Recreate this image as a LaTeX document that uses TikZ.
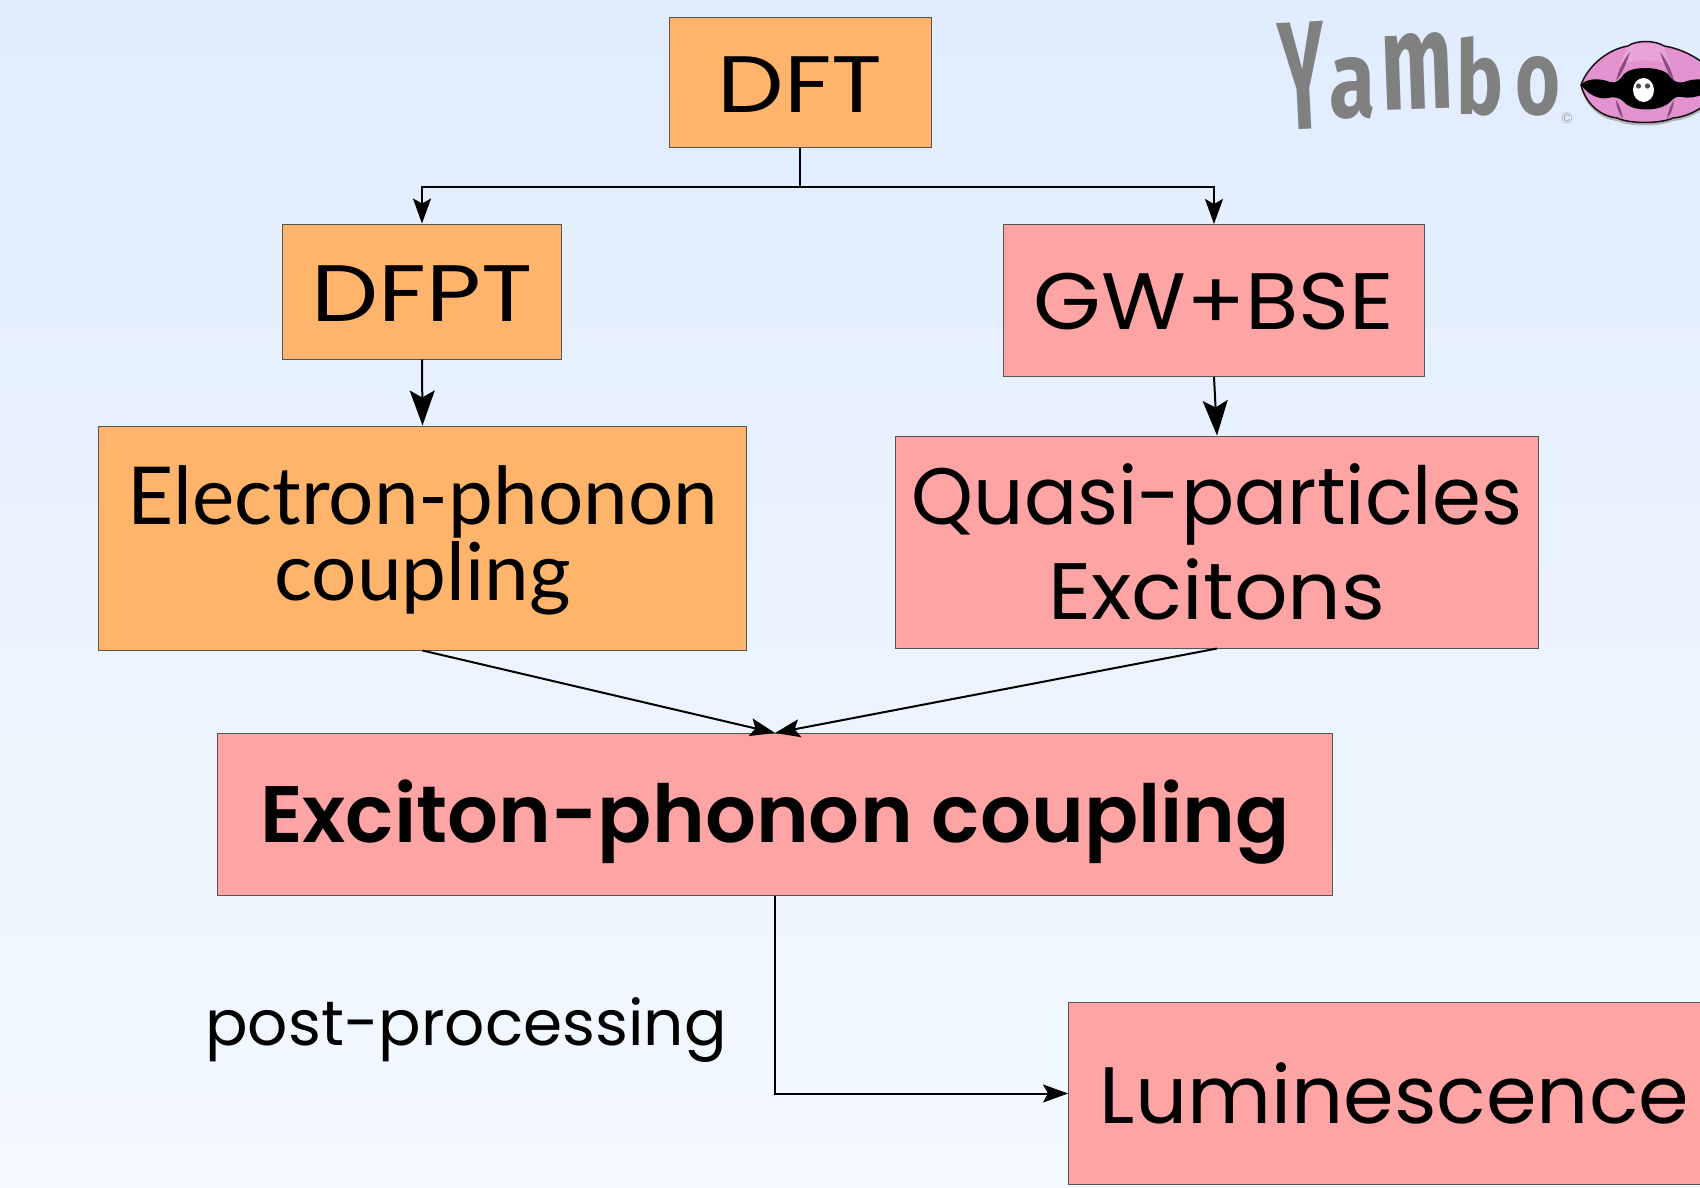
\documentclass[tikz,border=0pt]{standalone}
\usepackage{fontspec}
\usepackage{graphicx}
\setmainfont{Poppins}
\newfontfamily\latofont{Lato}
\newfontfamily\logofont{Fira Sans}
\newfontfamily\semifont{Poppins SemiBold}
\usetikzlibrary{arrows.meta}
\definecolor{bgtop}{HTML}{E0EDFF}
\definecolor{bgbot}{HTML}{F4F9FF}
\definecolor{boxorange}{HTML}{FFB46B}
\definecolor{boxpink}{HTML}{FFA4A4}
\definecolor{boxedge}{HTML}{555555}
\definecolor{clampink}{HTML}{E293CF}
\definecolor{clamlight}{HTML}{E8A4D8}
\definecolor{clamdark}{HTML}{8E4A80}
\definecolor{logogray}{HTML}{808080}
\tikzset{
  boxbase/.style={draw=boxedge,line width=1pt,inner sep=0pt,align=center,text=black},
  orangebox/.style={boxbase,fill=boxorange},
  pinkbox/.style={boxbase,fill=boxpink},
  smallhead/.style={-{Stealth[length=25pt,width=18pt,inset=5pt]}},
  bighead/.style={-{Stealth[length=35pt,width=25pt,inset=7pt]}},
  link/.style={draw=black,line width=2pt},
  logoletter/.style={inner sep=0pt,text=logogray,font=\logofont\bfseries},
}
\newcommand{\bigtxt}{\fontsize{80}{96}\selectfont}
% #1 = twice the downward shift, #2 = horizontal stretch, #3 = text
\newcommand{\shaped}[3]{\vbox{\kern#1\hbox{\scalebox{#2}[1]{#3}}}}
\begin{document}
\begin{tikzpicture}[x=1pt,y=-1pt]
\useasboundingbox (0,0) rectangle (1700,1188);
\clip (0,0) rectangle (1700,1188);
\shade[top color=bgtop,bottom color=bgbot] (0,0) rectangle (1700,1188);

\node[orangebox,minimum width=262pt,minimum height=130pt] (dft) at (800,83) {\bigtxt\shaped{2.4pt}{1.176}{DFT}};
\node[orangebox,minimum width=279pt,minimum height=135pt] (dfpt) at (422,291.5) {\bigtxt\shaped{4pt}{1.186}{DFPT}};
\node[pinkbox,minimum width=421pt,minimum height=152pt] (gw) at (1214,300.5) {\bigtxt\shaped{2pt}{1.086}{GW+BSE}};
\node[orangebox,minimum width=648pt,minimum height=224pt] (eph) at (422.5,538)
  {\vbox{\kern5pt\hbox{\begin{tabular}{@{}c@{}}\fontsize{80}{87}\selectfont\latofont Electron-phonon\\[13pt]\fontsize{80}{87}\selectfont\latofont coupling\end{tabular}}}};
\node[pinkbox,minimum width=643pt,minimum height=212pt] (qp) at (1217,542)
  {\vbox{\kern3pt\hbox{\begin{tabular}{@{}c@{}}\fontsize{80}{98}\selectfont\scalebox{.984}[1]{Quasi-particles}\\[31pt]\fontsize{80}{98}\selectfont\scalebox{1.05}[1]{Excitons}\end{tabular}}}};
\node[pinkbox,minimum width=1115pt,minimum height=162pt] (exc) at (775,814.5)
  {\fontsize{80}{96}\selectfont\semifont\shaped{15pt}{1.0}{Exciton-phonon coupling}};
\node[pinkbox,minimum width=652pt,minimum height=182pt] (lum) at (1394.5,1093.5) {\bigtxt\shaped{0pt}{1.02}{Luminescence}};
\node[inner sep=0pt,text=black,font=\fontsize{63}{76}\selectfont] (post) at (466,1030) {post-processing};

\coordinate (bus) at (800,186.5);
\draw[link] (dft.south) -- (bus);
\draw[link,smallhead] (bus) -| (dfpt.north);
\draw[link,smallhead] (bus) -| (gw.north);
\draw[link,bighead] (dfpt.south) -- (eph.north);
\draw[link,bighead] (gw.south) -- (qp.north);
\draw[link,smallhead] (eph.south) -- (exc.north);
\draw[link,smallhead] (qp.south) -- (exc.north);
\draw[link,smallhead] (exc.south) |- (lum.west);

% logo lettering
\node[logoletter,rotate=3] (ly) at (1302.5,76) {\resizebox{46pt}{107pt}{Y}};
\node[logoletter] (la) at (1352,88) {\resizebox{46pt}{60pt}{a}};
\node[logoletter,rotate=2] (lm) at (1417,71) {\resizebox{72pt}{76pt}{m}};
\node[logoletter] (lb) at (1480,76) {\resizebox{47pt}{78pt}{b}};
\node[logoletter] (lo) at (1538,86) {\resizebox{45pt}{58pt}{o}};
\node[inner sep=0pt,text=logogray!70,font=\fontsize{15}{18}\selectfont] (lc) at (1567,118) {©};

% clam
\def\clamoutline{(1581,85)
  .. controls (1586,70) and (1604,50) .. (1628,46)
  .. controls (1636,40) and (1655,40) .. (1664,46)
  .. controls (1690,50) and (1715,68) .. (1720,85)
  .. controls (1715,100) and (1695,116) .. (1673,118)
  .. controls (1660,124) and (1630,124) .. (1617,118)
  .. controls (1600,116) and (1586,104) .. (1581,85) -- cycle}
\fill[black!30,yshift=-3pt] \clamoutline;
\path[fill=clampink,draw=black!80!clamdark,line width=1.5pt] \clamoutline;
\fill[clamlight] (1628,47) .. controls (1636,42) and (1655,42) .. (1664,47)
  .. controls (1666,54) and (1668,60) .. (1670,66)
  .. controls (1655,58) and (1636,58) .. (1620,66)
  .. controls (1622,60) and (1624,54) .. (1628,47) -- cycle;
\fill[clamdark] (1630,52) .. controls (1622,62) and (1618,72) .. (1616,81) .. controls (1622,74) and (1626,64) .. (1630,52) -- cycle;
\fill[clamdark] (1660,52) .. controls (1668,62) and (1672,72) .. (1674,81) .. controls (1668,74) and (1664,64) .. (1660,52) -- cycle;
\fill[clamdark] (1616,100) .. controls (1616,106) and (1619,114) .. (1623,119) .. controls (1622,112) and (1620,106) .. (1616,100) -- cycle;
\fill[clamdark] (1674,100) .. controls (1674,106) and (1671,114) .. (1667,119) .. controls (1668,112) and (1670,106) .. (1674,100) -- cycle;
\fill[black] (1581,85) .. controls (1586,78) and (1600,78) .. (1610,82)
  .. controls (1616,84) and (1620,80) .. (1624,74)
  .. controls (1632,66) and (1658,66) .. (1668,74)
  .. controls (1672,80) and (1676,84) .. (1684,82)
  .. controls (1694,78) and (1710,78) .. (1720,85)
  .. controls (1710,92) and (1695,100) .. (1682,97)
  .. controls (1676,96) and (1674,98) .. (1670,102)
  .. controls (1660,112) and (1632,112) .. (1624,102)
  .. controls (1620,98) and (1614,96) .. (1608,98)
  .. controls (1598,100) and (1588,94) .. (1581,85) -- cycle;
\fill[white] (1643.5,90) ellipse [x radius=10.5pt,y radius=12pt];
\fill[black!70] (1638.5,86) circle (2.6pt);
\fill[black!70] (1647.5,86) circle (2.6pt);
\end{tikzpicture}
\end{document}
